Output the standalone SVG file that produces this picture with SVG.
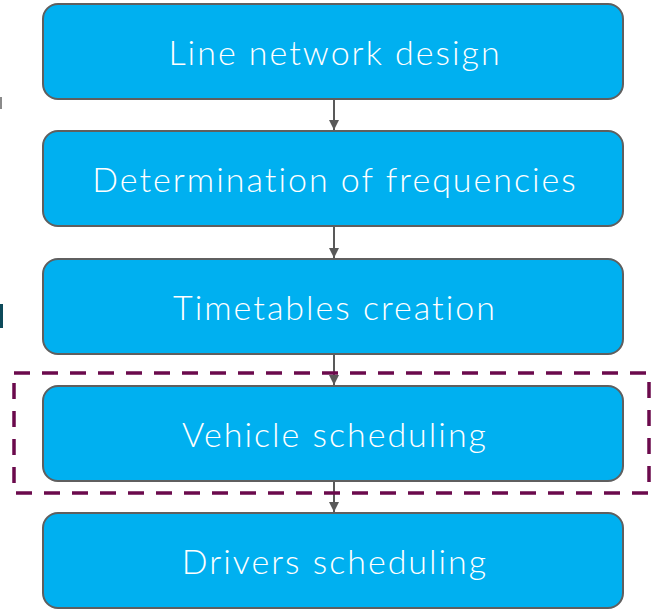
<svg xmlns="http://www.w3.org/2000/svg" width="654" height="611" viewBox="0 0 654 611">
  <defs>
    <style>
      .box { fill: #00b0f0; stroke: #5f5f5f; stroke-width: 2; }
      .label { fill: #ffffff; font-family: "Lato", "Open Sans", sans-serif; font-weight: 300; font-size: 34px; letter-spacing: 2px; text-anchor: middle; }
      .link { stroke: #595959; stroke-width: 2; fill: none; marker-end: url(#head); }
      .frame { fill: none; stroke: #6b0a4c; stroke-width: 3.5; stroke-dasharray: 16 12; }
    </style>
    <marker id="head" viewBox="0 0 10 10" refX="10" refY="5" markerWidth="5" markerHeight="5" markerUnits="strokeWidth" orient="auto">
      <path d="M0,0 L10,5 L0,10 Z" fill="#595959"/>
    </marker>
  </defs>
  <rect width="654" height="611" fill="#ffffff"/>

  <!-- edge fragments at the left margin -->
  <rect x="0" y="97" width="2" height="12" fill="#8a8a8a"/>
  <rect x="0" y="304" width="3" height="24" fill="#0d4a5a"/>

  <g id="connectors">
    <line class="link" x1="334" y1="100" x2="334" y2="130"/>
    <line class="link" x1="334" y1="227" x2="334" y2="258"/>
    <line class="link" x1="334" y1="355" x2="334" y2="385"/>
    <line class="link" x1="334" y1="482" x2="334" y2="512"/>
  </g>

  <g id="line-network-design">
    <rect class="box" x="43" y="4" width="580" height="95" rx="15"/>
    <text class="label" x="335" y="65">Line network design</text>
  </g>
  <g id="determination-of-frequencies">
    <rect class="box" x="43" y="131" width="580" height="95" rx="15"/>
    <text class="label" x="335" y="192">Determination of frequencies</text>
  </g>
  <g id="timetables-creation">
    <rect class="box" x="43" y="259" width="580" height="95" rx="15"/>
    <text class="label" x="335" y="320">Timetables creation</text>
  </g>
  <g id="vehicle-scheduling">
    <rect class="box" x="43" y="386" width="580" height="95" rx="15"/>
    <text class="label" x="335" y="447">Vehicle scheduling</text>
  </g>
  <g id="drivers-scheduling">
    <rect class="box" x="43" y="513" width="580" height="95" rx="15"/>
    <text class="label" x="335" y="574">Drivers scheduling</text>
  </g>

  <!-- dashed highlight around the vehicle scheduling step -->
  <rect class="frame" x="14" y="373" width="635" height="120"/>
</svg>
